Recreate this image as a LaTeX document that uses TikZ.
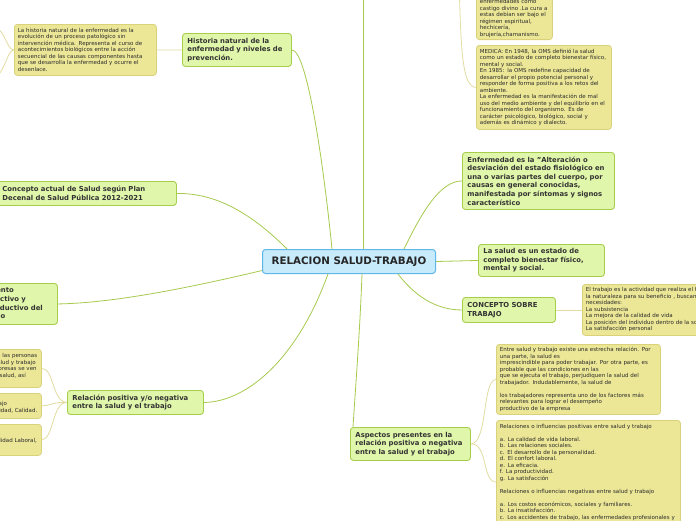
\documentclass[tikz,border=0pt]{standalone}
\usepackage{fontspec}
\setmainfont{DejaVu Sans}
\definecolor{gfill}{HTML}{E0F6AA}
\definecolor{gborder}{HTML}{A6CE4C}
\definecolor{yfill}{HTML}{ECE797}
\definecolor{yborder}{HTML}{D9D27A}
\definecolor{bfill}{HTML}{C7EBFB}
\definecolor{bborder}{HTML}{5FB6E8}
\definecolor{glinec}{HTML}{A6CA4E}
\definecolor{ylinec}{HTML}{E2DCA0}
\definecolor{txt}{HTML}{333333}
\definecolor{ltxt}{HTML}{2A2A2A}
\begin{document}
\begin{tikzpicture}[x=1pt,y=-1pt,
  centerbox/.style={draw=bborder, fill=bfill, rounded corners=3pt, line width=1pt, inner sep=0pt,
    minimum width=173pt, minimum height=24pt, anchor=north west,
    font=\fontsize{10.3}{12}\selectfont\bfseries, text=black!85},
  mainbox/.style={draw=gborder, fill=gfill, rounded corners=3pt, line width=0.9pt, inner xsep=5pt, inner ysep=1pt,
    font=\fontsize{6.85}{8.6}\selectfont\bfseries, text=txt, align=left, anchor=north west},
  leafbox/.style={draw=yborder, fill=yfill, rounded corners=3pt, line width=0.8pt, inner xsep=3.5pt, inner ysep=1pt,
    font=\fontsize{5.5}{6.5}\selectfont, text=ltxt, align=left, anchor=north west},
  gconn/.style={draw=glinec, line width=0.8pt},
  yconn/.style={draw=ylinec, line width=0.8pt}]
\useasboundingbox (0,0) rectangle (696,520);
\clip (0,0) rectangle (696,520);
\fill[white] (0,0) rectangle (696,520);

% off-screen ends
\coordinate (topoff) at (363,-20);
\coordinate (medoff) at (459,-20);
\coordinate (hloffa) at (-10,24);
\coordinate (hloffb) at (-10,80);

% nodes
\node[centerbox] (c) at (262,249) {RELACION SALUD-TRABAJO};

\node[mainbox, text width=99pt, minimum height=33pt] (hist) at (182,33)
 {Historia natural de la\\enfermedad y niveles de\\prevención.};
\node[leafbox, text width=135pt, minimum height=51pt] (hl) at (14,24)
 {La historia natural de la enfermedad es la\\evolución de un proceso patológico sin\\intervención médica. Representa el curso de\\acontecimientos biológicos entre la acción\\secuencial de las causas componentes hasta\\que se desarrolla la enfermedad y ocurre el\\desenlace.};

\node[leafbox, anchor=south west, inner ysep=2pt, text width=69pt] (tl) at (476,40)
 {enfermedades como\\castigo divino .La cura a\\estas debían ser bajo el\\régimen espiritual,\\hechicería,\\brujería,chamanismo.};
\node[leafbox, text width=128pt, minimum height=84pt] (med) at (476,45)
 {MEDICA: En 1948, la OMS definió la salud\\como un estado de completo bienestar físico,\\mental y social.\\En 1985: la OMS redefine capacidad de\\desarrollar el propio potencial personal y\\responder de forma positiva a los retos del\\ambiente.\\La enfermedad es la manifestación de mal\\uso del medio ambiente y del equilibrio en el\\funcionamiento del organismo. Es de\\carácter psicológico, biológico, social y\\además es dinámico y dialecto.};

\node[mainbox, text width=142pt, minimum height=57pt] (enf) at (462,152)
 {Enfermedad es la "Alteración o\\desviación del estado fisiológico en\\una o varias partes del cuerpo, por\\causas en general conocidas,\\manifestada por síntomas y signos\\característico};
\node[mainbox, text width=116pt, minimum height=32pt] (sal) at (478,244)
 {La salud es un estado de\\completo bienestar físico,\\mental y social.};
\node[mainbox, text width=83pt, minimum height=25pt] (ctr) at (462,297)
 {CONCEPTO SOBRE\\TRABAJO};
\node[leafbox, text width=180pt, minimum height=51pt] (trl) at (582,284)
 {El trabajo es la actividad que realiza el hombre transformando\\la naturaleza para su beneficio , buscando satisfacer sus\\necesidades:\\* La subsistencia\\* La mejora de la calidad de vida\\* La posición del individuo dentro de la sociedad\\* La satisfacción personal};

\node[mainbox, text width=169pt, minimum height=24pt] (act) at (-3,181)
 {Concepto actual de Salud según Plan\\Decenal de Salud Pública 2012-2021};
\node[mainbox, text width=75pt, minimum height=41pt] (elem) at (-28,283)
 {Elemento\\productivo y\\improductivo del\\trabajo};

\node[mainbox, text width=126pt, minimum height=24pt] (rel) at (67,390)
 {Relación positiva y/o negativa\\entre la salud y el trabajo};
\node[leafbox, text width=94pt, minimum height=38pt] (ra) at (-60,349)
 {Existe relación entre las personas\\que tienen buena salud y trabajo\\productivo y las empresas se ven\\beneficiadas por su salud, así\\~};
\node[leafbox, text width=94pt, minimum height=25pt] (rb) at (-60,393)
 {~\\Bienestar en el trabajo\\Eficiencia, Productividad, Calidad.};
\node[leafbox, text width=94pt, minimum height=31pt] (rc) at (-60,424)
 {~\\Accidentes, Inestabilidad Laboral,};

\node[mainbox, text width=110pt, minimum height=33pt] (asp) at (350,427)
 {Aspectos presentes en la\\relación positiva o negativa\\entre la salud y el trabajo};
\node[leafbox, text width=157pt, minimum height=70pt] (a1) at (496,344)
 {Entre salud y trabajo existe una estrecha relación. Por\\una parte, la salud es\\imprescindible para poder trabajar. Por otra parte, es\\probable que las condiciones en las\\que se ejecuta el trabajo, perjudiquen la salud del\\trabajador. Indudablemente, la salud de\\~\\los trabajadores representa uno de los factores más\\relevantes para lograr el desempeño\\productivo de la empresa};
\node[leafbox, text width=177pt, minimum height=104pt] (a2) at (496,420)
 {Relaciones o influencias positivas entre salud y trabajo\\~\\a. La calidad de vida laboral.\\b. Las relaciones sociales.\\c. El desarrollo de la personalidad.\\d. El confort laboral.\\e. La eficacia.\\f. La productividad.\\g. La satisfacción\\~\\Relaciones o influencias negativas entre salud y trabajo\\~\\a. Los costos económicos, sociales y familiares.\\b. La insatisfacción.\\\makebox[0pt][l]{c. Los accidentes de trabajo, las enfermedades profesionales y}};

% green connectors from centre
\draw[gconn] ([xshift=25pt]c.north west) .. controls (250,212) and (215,193) .. (act.east);
\draw[gconn] ([xshift=70pt]c.north west) .. controls (322,150) and (306,50) .. (hist.east);
\draw[gconn] ([xshift=101pt]c.north west) -- (topoff);
\draw[gconn] ([xshift=142pt]c.north west) .. controls (422,212) and (440,181) .. (enf.west);
\draw[gconn] (c.east) -- (sal.west);
\draw[gconn] ([xshift=136pt]c.south west) .. controls (418,300) and (440,310) .. (ctr.west);
\draw[gconn] ([xshift=100pt]c.south west) .. controls (360,330) and (355,395) .. ([xshift=3pt]asp.north west);
\draw[gconn] ([xshift=66pt]c.south west) .. controls (296,362) and (245,402) .. (rel.east);
\draw[gconn] ([yshift=-9pt]c.west) .. controls (180,290) and (110,303) .. (elem.east);

% yellow connectors to leaves
\draw[yconn] (hist.west) -- (hl.east);
\draw[yconn] (hl.west) .. controls (6,50) and (6,28) .. (hloffa);
\draw[yconn] (hl.west) .. controls (6,50) and (6,76) .. (hloffb);
\draw[yconn] (medoff) .. controls (461,50) and (462,87) .. (med.west);
\draw[yconn] (ctr.east) -- (trl.west |- ctr.east);
\draw[yconn] (rel.west) .. controls (52,402) and (54,368) .. (ra.east);
\draw[yconn] (rel.west) .. controls (52,402) and (54,405) .. (rb.east);
\draw[yconn] (rel.west) .. controls (52,402) and (54,439) .. (rc.east);
\draw[yconn] (asp.east) .. controls (488,443) and (482,380) .. (a1.west);
\draw[yconn] (asp.east) .. controls (488,443) and (482,482) .. ([yshift=-62pt]a2.north west);
\end{tikzpicture}
\end{document}
